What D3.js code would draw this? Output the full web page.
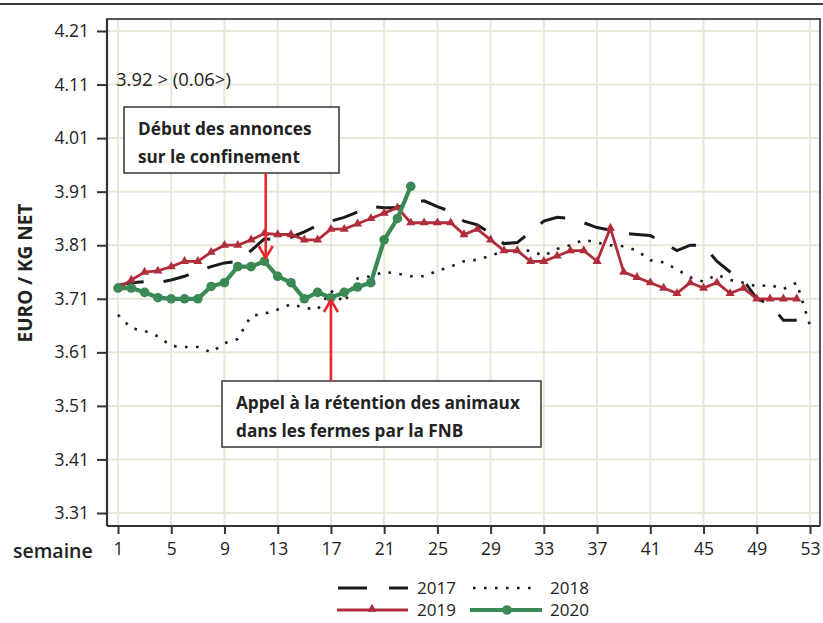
<!DOCTYPE html>
<html><head><meta charset="utf-8">
<script src="https://cdn.jsdelivr.net/npm/d3@7"></script>
<style>
html,body{margin:0;padding:0;background:#fff;}
svg{display:block;font-family:"Open Sans",sans-serif;}
</style></head>
<body>
<svg id="c" width="823" height="623"></svg>
<script>
const xTicks = [1,5,9,13,17,21,25,29,33,37,41,45,49,53];
const yTicks = [3.31,3.41,3.51,3.61,3.71,3.81,3.91,4.01,4.11,4.21];
const yTickLabels = ["3.31","3.41","3.51","3.61","3.71","3.81","3.91","4.01","4.11","4.21"];
const seriesNames = ["2017","2018","2019","2020"];
// values per week, starting at week 1
const v2017 = [3.735,3.74,3.742,3.74,3.745,3.752,3.762,3.77,3.777,3.78,
  3.80,3.822,3.82,3.825,3.835,3.847,3.855,3.862,3.872,3.882,
  3.88,3.88,3.89,3.893,3.882,3.873,3.855,3.848,3.832,3.813,
  3.815,3.835,3.855,3.862,3.86,3.852,3.843,3.838,3.832,3.83,
  3.828,3.815,3.80,3.81,3.81,3.78,3.76,3.745,3.71,3.70,
  3.67,3.67];
const v2018 = [3.68,3.655,3.65,3.64,3.622,3.62,3.62,3.61,3.627,3.635,
  3.678,3.682,3.69,3.70,3.693,3.69,3.725,3.703,3.748,3.752,
  3.76,3.757,3.752,3.752,3.762,3.77,3.78,3.783,3.79,3.80,
  3.80,3.80,3.79,3.803,3.81,3.82,3.815,3.81,3.808,3.80,
  3.782,3.778,3.765,3.75,3.742,3.755,3.745,3.74,3.733,3.736,
  3.728,3.74,3.66];
const v2019 = [3.73,3.745,3.76,3.762,3.77,3.78,3.78,3.797,3.81,3.81,
  3.82,3.832,3.83,3.83,3.82,3.82,3.84,3.84,3.85,3.86,
  3.87,3.88,3.852,3.852,3.852,3.852,3.83,3.84,3.82,3.80,
  3.80,3.78,3.78,3.79,3.80,3.80,3.78,3.842,3.76,3.75,
  3.74,3.73,3.72,3.74,3.73,3.74,3.72,3.73,3.71,3.71,
  3.71,3.71];
const v2020 = [3.73,3.73,3.722,3.712,3.71,3.71,3.71,3.733,3.74,3.77,
  3.77,3.78,3.752,3.74,3.71,3.722,3.712,3.722,3.732,3.74,
  3.82,3.86,3.92];
const headerText = "3.92 > (0.06>)";
const note1 = ["Début des annonces","sur le confinement"];
const note2 = ["Appel à la rétention des animaux","dans les fermes par la FNB"];
const note1Week = 12.1, note2Week = 17;

const svg = d3.select("#c");
const L=107, T=19, R=820, B=526;
const x = d3.scaleLinear().domain([1,53]).range([118,810]);
const y = d3.scaleLinear().domain([3.31,4.21]).range([513,31]);

// top rule
svg.append("line").attr("x1",0).attr("x2",823).attr("y1",4).attr("y2",4)
  .attr("stroke","#3a3a3a").attr("stroke-width",2);

// grid
const grid = svg.append("g");
grid.selectAll(".gx").data(xTicks).join("line")
  .attr("x1",d=>x(d)).attr("x2",d=>x(d)).attr("y1",T).attr("y2",B)
  .attr("stroke","#e9e8d8").attr("stroke-width",2);
grid.selectAll(".gy").data(yTicks).join("line")
  .attr("x1",L).attr("x2",R).attr("y1",d=>y(d)).attr("y2",d=>y(d))
  .attr("stroke","#e9e8d8").attr("stroke-width",2);

// frame
svg.append("path").attr("d",`M${L},${B}V${T}H${R}V${B}`)
  .attr("fill","none").attr("stroke","#555").attr("stroke-width",2);
svg.append("line").attr("x1",L).attr("x2",R).attr("y1",B).attr("y2",B)
  .attr("stroke","#333").attr("stroke-width",2.2);
svg.append("line").attr("x1",L).attr("x2",L).attr("y1",T).attr("y2",B)
  .attr("stroke","#333").attr("stroke-width",2.2);

// axes
const yAxis = d3.axisLeft(y).tickValues(yTicks).tickFormat((d,i)=>yTickLabels[i]).tickSize(10).tickPadding(8);
const gy = svg.append("g").attr("transform",`translate(${L},0)`).call(yAxis);
gy.select(".domain").remove();
gy.selectAll(".tick line").attr("stroke","#333").attr("stroke-width",2);
gy.selectAll(".tick text").attr("font-size",17.5).attr("fill","#222").attr("font-family","Open Sans");

const xAxis = d3.axisBottom(x).tickValues(xTicks).tickSize(8).tickPadding(9);
const gx = svg.append("g").attr("transform",`translate(0,${B})`).call(xAxis);
gx.select(".domain").remove();
gx.selectAll(".tick line").attr("stroke","#333").attr("stroke-width",2);
gx.selectAll(".tick text").attr("font-size",17.5).attr("fill","#222").attr("font-family","Open Sans");

svg.append("text").attr("x",13).attr("y",558).attr("font-size",19.5).attr("font-weight",600)
  .attr("fill","#222").text("semaine");
svg.append("text").attr("transform","translate(32,273) rotate(-90)").attr("text-anchor","middle")
  .attr("font-size",19).attr("font-weight",700).attr("fill","#222").text("EURO / KG NET");

// lines
const line = d3.line().x((d,i)=>x(i+1)).y(d=>y(d));
const C2017="#1a1a1a", C2018="#1a1a1a", C2019="#b02e3c", C2020="#3b8a56";

svg.append("path").datum(v2018).attr("d",line).attr("fill","none")
  .attr("stroke",C2018).attr("stroke-width",2.6).attr("stroke-dasharray","2.6 8.4");
svg.append("path").datum(v2017).attr("d",line).attr("fill","none")
  .attr("stroke",C2017).attr("stroke-width",3).attr("stroke-dasharray","26 20");

svg.append("path").datum(v2019).attr("d",line).attr("fill","none")
  .attr("stroke",C2019).attr("stroke-width",2.8);
const tri = d3.symbol().type(d3.symbolTriangle).size(36);
svg.append("g").selectAll("path").data(v2019).join("path")
  .attr("d",tri).attr("transform",(d,i)=>`translate(${x(i+1)},${y(d)})`).attr("fill",C2019);

svg.append("path").datum(v2020).attr("d",line).attr("fill","none")
  .attr("stroke",C2020).attr("stroke-width",4.2);
svg.append("g").selectAll("circle").data(v2020).join("circle")
  .attr("cx",(d,i)=>x(i+1)).attr("cy",d=>y(d)).attr("r",4.8).attr("fill",C2020);

// header text
svg.append("text").attr("x",116).attr("y",86).attr("font-size",18.5).attr("fill","#222").text(headerText);

// annotation boxes
function box(x0,y0,x1,y1,lines,ty){
  svg.append("rect").attr("x",x0).attr("y",y0).attr("width",x1-x0).attr("height",y1-y0)
    .attr("fill","#fff").attr("stroke","#333").attr("stroke-width",1.5);
  lines.forEach((t,i)=>svg.append("text").attr("x",x0+14).attr("y",ty[i])
    .attr("font-size",17.2).attr("font-weight",700).attr("fill","#222").text(t));
}
const ARROW="#e5282c";
function arrow(xp,ya,yb){ // from ya to tip yb
  svg.append("line").attr("x1",xp).attr("x2",xp).attr("y1",ya).attr("y2",yb)
    .attr("stroke",ARROW).attr("stroke-width",2.6);
  const dir = yb>ya ? -1 : 1;
  svg.append("path").attr("d",`M${xp-7},${yb+dir*12}L${xp},${yb}L${xp+7},${yb+dir*12}`)
    .attr("fill","none").attr("stroke",ARROW).attr("stroke-width",2.6);
}
box(124,107,339,173,note1,[135,163]);
arrow(x(note1Week),173,258);
box(222,381,541,447,note2,[409,437]);
arrow(x(note2Week),381,300);

// legend
const lg = svg.append("g");
lg.append("line").attr("x1",338).attr("x2",408).attr("y1",588).attr("y2",588)
  .attr("stroke",C2017).attr("stroke-width",3).attr("stroke-dasharray","29 22");
lg.append("line").attr("x1",473).attr("x2",533).attr("y1",588).attr("y2",588)
  .attr("stroke",C2018).attr("stroke-width",2.6).attr("stroke-dasharray","2.6 8.4");
lg.append("line").attr("x1",337).attr("x2",408).attr("y1",610).attr("y2",610)
  .attr("stroke",C2019).attr("stroke-width",2.8);
lg.append("path").attr("d",tri).attr("transform","translate(372,609)").attr("fill",C2019);
lg.append("line").attr("x1",470).attr("x2",542).attr("y1",610).attr("y2",610)
  .attr("stroke",C2020).attr("stroke-width",4.2);
lg.append("circle").attr("cx",507).attr("cy",610).attr("r",4.8).attr("fill",C2020);
[[417,594,0],[550,594,1],[417,616,2],[550,616,3]].forEach(p=>
  lg.append("text").attr("x",p[0]).attr("y",p[1]).attr("font-size",17).attr("fill","#222").text(seriesNames[p[2]]));
</script>
</body></html>
